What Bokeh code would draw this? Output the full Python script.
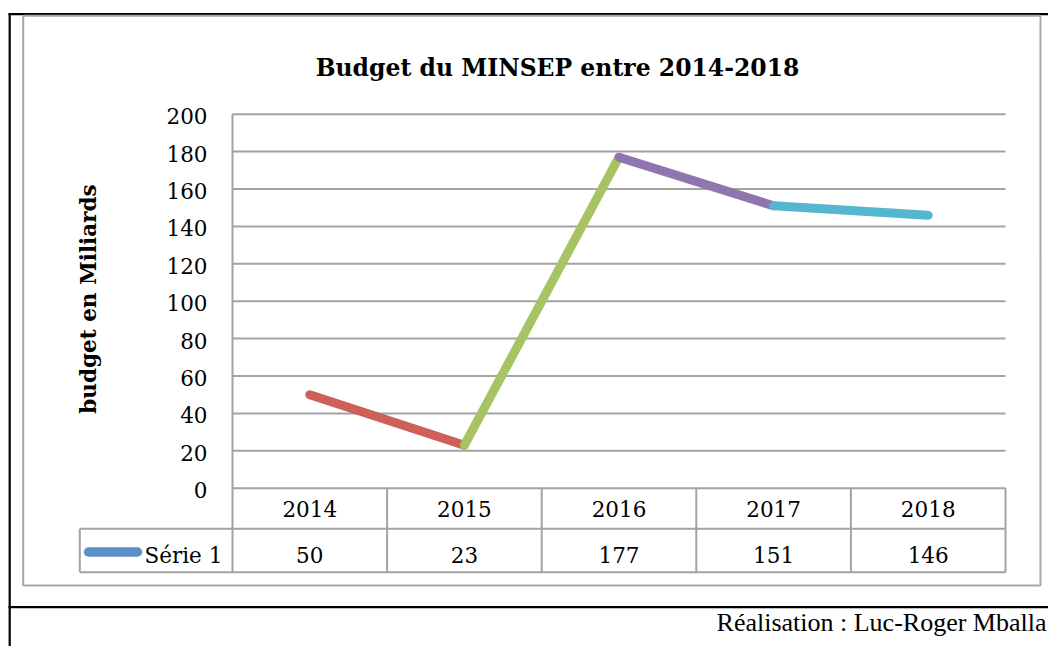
import math
from bokeh.plotting import figure
from bokeh.models import Range1d
from bokeh.core.properties import value
from bokeh.embed import file_html
from bokeh.resources import INLINE

# ---- data ----
title_text = "Budget du MINSEP entre 2014-2018"
y_title = "budget en Miliards"
series_name = "Série 1"
credit = "Réalisation : Luc-Roger Mballa"
years = ["2014", "2015", "2016", "2017", "2018"]
budget = [50, 23, 177, 151, 146]
y_ticks = [0, 20, 40, 60, 80, 100, 120, 140, 160, 180, 200]
segment_colors = ["#CD615A", "#A6C463", "#9076AF", "#55B6CF"]
legend_color = "#5B90C8"

# ---- layout (page pixels) ----
W, H = 1048, 646
OFF = 0
PL, PR = 232.0, 1005.0
PY0, PY200 = 487.7, 113.7
YMAX = y_ticks[-1]
n = len(years)
ux = (PR - PL) / n
uy = (PY0 - PY200) / YMAX


def X(px):
    return (px - PL) / ux


def Y(py):
    return (PY0 - py) / uy


SERIF = value("DejaVu Serif")
TIMES = value("Liberation Serif")
GRAY = "#A3A3A3"

p = figure(width=W, height=H,
           x_range=Range1d(X(OFF), X(OFF + W)),
           y_range=Range1d(Y(OFF + H), Y(OFF)),
           output_backend="svg", toolbar_location=None,
           x_axis_type=None, y_axis_type=None, min_border=0,
           outline_line_color=None, background_fill_color="white",
           border_fill_color="white")

# outer black frame lines
p.segment(x0=[X(8), X(9.2), X(8)], y0=[Y(13.6), Y(12.6), Y(606.7)],
          x1=[X(1048), X(9.2), X(1048)], y1=[Y(13.6), Y(646), Y(606.7)],
          line_color="black", line_width=2.2)

# gray chart frame
p.quad(left=[X(22.7)], right=[X(1040)], top=[Y(15.2)], bottom=[Y(585)],
       fill_color=None, line_color="#A8A8A8", line_width=2)

# gridlines
p.segment(x0=[0] * len(y_ticks), x1=[n] * len(y_ticks), y0=y_ticks, y1=y_ticks,
          line_color=GRAY, line_width=2)

# axis line + table lines
row1_bot = Y(528.3)
row2_bot = Y(571.7)
vx = list(range(0, n + 1))
p.segment(x0=[0], y0=[YMAX], x1=[0], y1=[row2_bot], line_color=GRAY, line_width=2)
p.segment(x0=vx[1:], y0=[0] * n, x1=vx[1:], y1=[row2_bot] * n, line_color=GRAY, line_width=2)
p.segment(x0=[X(79.3), X(79.3)], y0=[row1_bot, row2_bot], x1=[n, n], y1=[row1_bot, row2_bot],
          line_color=GRAY, line_width=2)
p.segment(x0=[X(79.3)], y0=[row1_bot], x1=[X(79.3)], y1=[row2_bot], line_color=GRAY, line_width=2)

# series line, one colour per segment
centers = [i + 0.5 for i in range(n)]
p.segment(x0=centers[:-1], y0=budget[:-1], x1=centers[1:], y1=budget[1:],
          line_color=segment_colors, line_width=9, line_cap="round")

# y tick labels
p.text(x=[X(207)] * len(y_ticks), y=[t - 2.0 / uy for t in y_ticks],
       text=[str(t) for t in y_ticks], text_align="right", text_baseline="middle",
       text_font=SERIF, text_font_size="21.5px", text_color="black")

# table: years and values
p.text(x=centers, y=[Y(508.5)] * n, text=years, text_align="center",
       text_baseline="middle", text_font=SERIF, text_font_size="21.5px", text_color="black")
p.text(x=centers, y=[Y(554.5)] * n, text=[str(v) for v in budget], text_align="center",
       text_baseline="middle", text_font=SERIF, text_font_size="21.5px", text_color="black")

# legend key
p.segment(x0=[X(88)], y0=[Y(551.5)], x1=[X(137)], y1=[Y(551.5)],
          line_color=legend_color, line_width=9.5, line_cap="round")
p.text(x=[X(144)], y=[Y(554.5)], text=[series_name], text_align="left",
       text_baseline="middle", text_font=SERIF, text_font_size="21.5px", text_color="black")

# title
p.text(x=[X(557)], y=[Y(67.5)], text=[title_text], text_align="center",
       text_baseline="middle", text_font=SERIF, text_font_style="bold",
       text_font_size="23.5px", text_color="black")

# y axis title
p.text(x=[X(88)], y=[Y(298.5)], text=[y_title], angle=math.pi / 2,
       text_align="center", text_baseline="middle", text_font=SERIF,
       text_font_style="bold", text_font_size="21.5px", text_color="black")

# credit
p.text(x=[X(1046)], y=[Y(622)], text=[credit], text_align="right",
       text_baseline="middle", text_font=TIMES, text_font_size="26px", text_color="black")

open("out.html", "w").write(file_html(p, INLINE))
